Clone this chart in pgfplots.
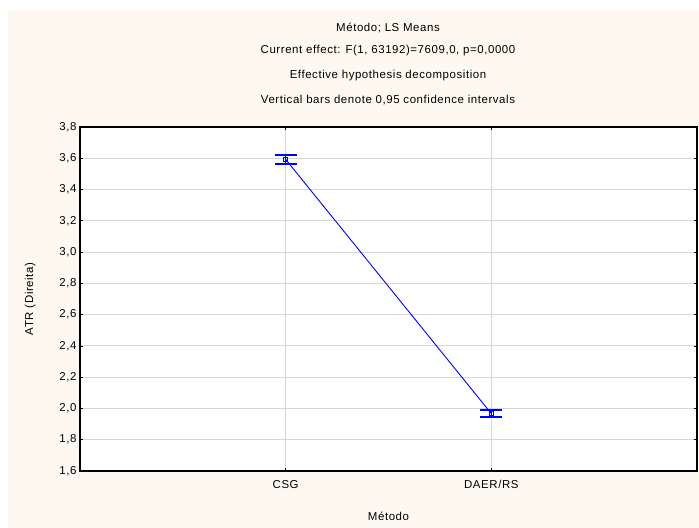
\documentclass[border=0pt]{standalone}
\usepackage{fontspec}
\setmainfont{Liberation Sans}[LetterSpace=5]
\usepackage{pgfplots}
\pgfplotsset{compat=1.18}
\definecolor{cream}{RGB}{253,249,241}
\definecolor{gridgray}{RGB}{215,215,215}
\newcommand{\chfont}{\fontsize{11.5}{13}\selectfont}
\begin{document}
\begin{tikzpicture}
  \path[use as bounding box] (0bp,0bp) rectangle (699bp,528bp);
  \fill[cream] (8bp,0bp) rectangle (699bp,518bp);
  % titles
  \node[font=\chfont] at (388bp,500bp) {Método; LS Means};
  \node[font=\chfont] at (388bp,477bp) {Current effect: F(1, 63192)=7609,0, p=0,0000};
  \node[font=\chfont] at (388bp,452bp) {Effective hypothesis decomposition};
  \node[font=\chfont] at (388bp,428bp) {Vertical bars denote 0,95 confidence intervals};
  \begin{axis}[
      at={(80bp,57bp)}, anchor=south west,
      scale only axis,
      width=617bp, height=344bp,
      axis background/.style={fill=white},
      axis line style={black, line width=1.4bp},
      xmin=-1, xmax=2,
      ymin=1.6, ymax=3.8,
      xtick={0,1}, xticklabels={CSG,DAER/RS},
      ytick distance=0.2,
      grid=major,
      major grid style={gridgray, line width=1bp},
      tick style={black, line width=0.8bp},
      major tick length=3bp,
      ticklabel style={font=\chfont},
      x tick label style={yshift=-6bp},
      /pgf/number format/assume math mode=true,
      y tick label style={
          /pgf/number format/.cd,
              fixed, fixed zerofill, precision=1, use comma,
          /tikz/.cd
      },
      xlabel={Método},
      ylabel={ATR (Direita)},
      label style={font=\chfont},
      xlabel style={yshift=-16bp},
      ylabel style={yshift=17bp},
    ]
    \addplot [color=blue, line width=0.9bp, mark=square, mark size=2bp,
              mark options={blue, line width=1.2bp},
              error bars/.cd, y dir=both, y explicit,
              error bar style={blue, line width=1.4bp},
              error mark options={draw=blue, rotate=90, mark size=11bp, line width=1.6bp}]
      coordinates {
        (0,3.593) +- (0,0.028)
        (1,1.967) +- (0,0.023)
      };
  \end{axis}
\end{tikzpicture}
\end{document}
